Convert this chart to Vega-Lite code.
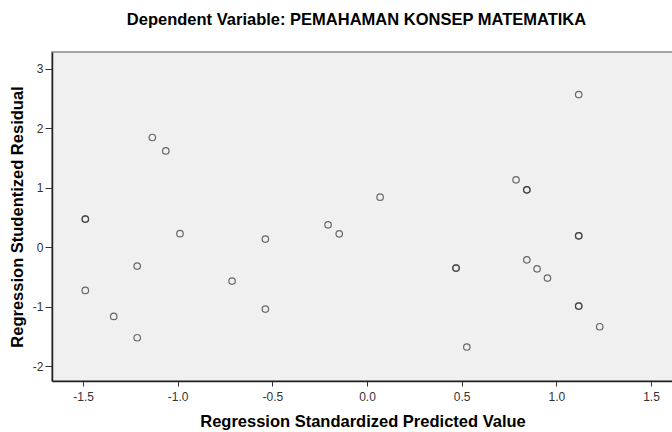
{
  "$schema": "https://vega.github.io/schema/vega-lite/v6.json",
  "autosize": "none",
  "width": 621,
  "height": 329,
  "padding": {"left": 52, "top": 52, "right": 0, "bottom": 51},
  "background": "white",
  "title": {
    "text": "Dependent Variable: PEMAHAMAN KONSEP MATEMATIKA",
    "font": "Liberation Sans",
    "fontSize": 16.5,
    "fontWeight": "bold",
    "color": "#000000",
    "anchor": "middle",
    "dx": -6,
    "offset": 24
  },
  "config": {
    "view": {"fill": "#f0f0f0", "stroke": "#8a8a8a", "strokeWidth": 1.5},
    "axis": {
      "labelFont": "Liberation Sans",
      "labelFontSize": 12,
      "labelColor": "#333333",
      "titleFont": "Liberation Sans",
      "titleFontSize": 16.5,
      "titleFontWeight": "bold",
      "titleColor": "#000000",
      "domainColor": "#222222",
      "domainWidth": 1.5,
      "tickColor": "#333333",
      "tickWidth": 1,
      "grid": false
    }
  },
  "data": {
    "values": [
      {"pred": -1.488, "resid": 0.474},
      {"pred": -1.488, "resid": 0.474},
      {"pred": -1.488, "resid": -0.724},
      {"pred": -1.338, "resid": -1.161},
      {"pred": -1.214, "resid": -0.316},
      {"pred": -1.214, "resid": -1.520},
      {"pred": -1.134, "resid": 1.846},
      {"pred": -1.063, "resid": 1.621},
      {"pred": -0.988, "resid": 0.230},
      {"pred": -0.713, "resid": -0.568},
      {"pred": -0.537, "resid": 0.138},
      {"pred": -0.537, "resid": -1.038},
      {"pred": -0.206, "resid": 0.378},
      {"pred": -0.147, "resid": 0.227},
      {"pred": 0.069, "resid": 0.843},
      {"pred": 0.470, "resid": -0.349},
      {"pred": 0.470, "resid": -0.349},
      {"pred": 0.527, "resid": -1.676},
      {"pred": 0.787, "resid": 1.134},
      {"pred": 0.844, "resid": 0.966},
      {"pred": 0.844, "resid": 0.966},
      {"pred": 0.844, "resid": -0.210},
      {"pred": 0.898, "resid": -0.361},
      {"pred": 0.953, "resid": -0.517},
      {"pred": 1.118, "resid": 2.568},
      {"pred": 1.118, "resid": 0.193},
      {"pred": 1.118, "resid": 0.193},
      {"pred": 1.118, "resid": -0.988},
      {"pred": 1.118, "resid": -0.988},
      {"pred": 1.229, "resid": -1.335}
    ]
  },
  "mark": {"type": "point", "shape": "circle", "filled": false, "size": 42, "stroke": "#333333", "strokeWidth": 1.2, "opacity": 0.72},
  "encoding": {
    "x": {
      "field": "pred",
      "type": "quantitative",
      "scale": {"domain": [-1.664, 1.616], "nice": false, "zero": false},
      "axis": {
        "title": "Regression Standardized Predicted Value",
        "values": [-1.5, -1.0, -0.5, 0.0, 0.5, 1.0, 1.5],
        "labelExpr": "datum.value < 0 ? '-' + format(-datum.value, '.1f') : format(datum.value, '.1f')",
        "tickSize": 5,
        "labelPadding": 5,
        "titlePadding": 11
      }
    },
    "y": {
      "field": "resid",
      "type": "quantitative",
      "scale": {"domain": [-2.247, 3.283], "nice": false, "zero": false},
      "axis": {
        "title": "Regression Studentized Residual",
        "values": [-2, -1, 0, 1, 2, 3],
        "labelExpr": "datum.value < 0 ? '-' + format(-datum.value, 'd') : format(datum.value, 'd')",
        "tickSize": 7,
        "labelPadding": 2,
        "titlePadding": 7
      }
    }
  }
}
